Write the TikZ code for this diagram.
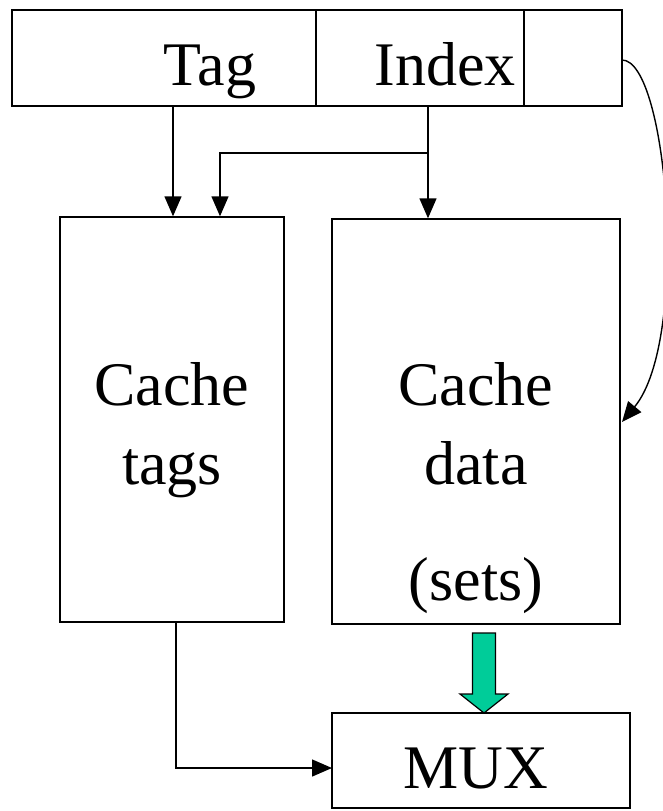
\documentclass[tikz,border=0pt]{standalone}
\usepackage{fontspec}
\setmainfont{Liberation Serif}
\usetikzlibrary{arrows.meta}

\definecolor{setgreen}{RGB}{0,204,153}

\begin{document}
\begin{tikzpicture}[x=1pt,y=-1pt,line width=1.4pt,
	box/.style={draw,rectangle,inner sep=0pt},
	lbl/.style={font=\fontsize{62}{70}\selectfont,inner sep=0pt},
	arr/.style={-{Triangle[length=20pt,width=17pt]}}]
	
	\useasboundingbox (0,0) rectangle (662,811);
	
	% address fields
	\node[box,minimum width=610pt,minimum height=96pt] (addr) at (317,58) {};
	\draw (316,10) -- (316,106);
	\draw (524,10) -- (524,106);
	\node[lbl,anchor=base] (tag) at (210,85) {Tag};
	\node[lbl,anchor=base] (index) at (445,85) {Index};
	
	% memories
	\node[box,minimum width=224pt,minimum height=405pt] (tags) at (172,419.5) {};
	\node[lbl,anchor=base] (tagsA) at (172,405) {Cache};
	\node[lbl,anchor=base] (tagsB) at (172,484) {tags};
	\node[box,minimum width=288pt,minimum height=405pt] (data) at (476,421.5) {};
	\node[lbl,anchor=base] (dataA) at (476,405) {Cache};
	\node[lbl,anchor=base] (dataB) at (476,484) {data};
	\node[lbl,anchor=base] (dataC) at (476,600) {(sets)};
	\node[box,minimum width=298pt,minimum height=95pt] (mux) at (481,760.5) {};
	\node[lbl,anchor=base] (muxtxt) at (476,788) {MUX};
	
	% connections
	\coordinate (tagtap) at (173,106);
	\coordinate (idxtap) at (428,106);
	\coordinate (split) at (428,153);
	\coordinate (bend) at (220,153);
	\coordinate (offtap) at (622,60);
	\coordinate (offin) at (622,422);
	\coordinate (tagout) at (176,622);
	\coordinate (muxin) at (332,768);
	\draw[arr] (tagtap) -- (tagtap |- tags.north);
	\draw[arr] (idxtap) -- (idxtap |- data.north);
	\draw[arr] (split) -- (bend) -- (bend |- tags.north);
	\draw[arr] (offtap) .. controls (668,60) and (690,340) .. (offin);
	\draw[arr] (tagout) |- (muxin);
	%data out
	\draw[line width=1.2pt,fill=setgreen] (472.5,633) -- (495.5,633) -- (495.5,694)
		-- (508,694) -- (484,713) -- (460,694) -- (472.5,694) -- cycle;
\end{tikzpicture}
\end{document}
